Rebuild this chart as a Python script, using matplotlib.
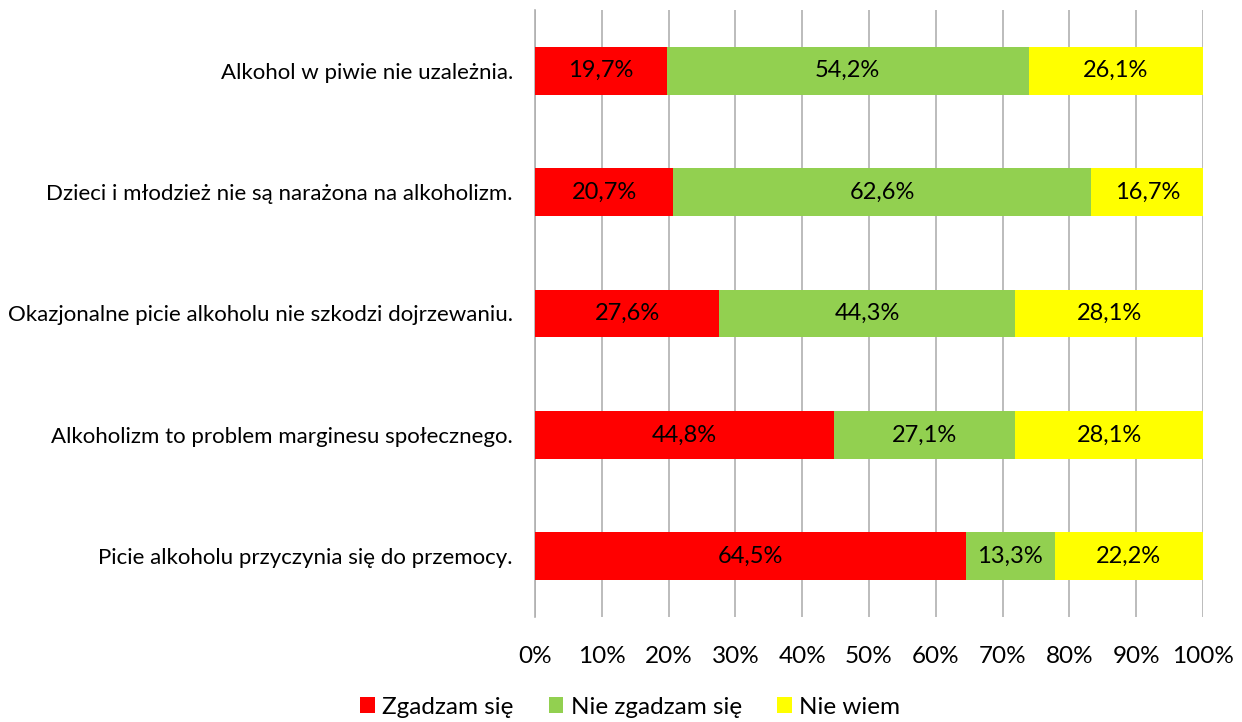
import matplotlib
matplotlib.use("Agg")
import matplotlib.pyplot as plt
from matplotlib.patches import Patch
import numpy as np

plt.rcParams['font.family'] = ['Lato', 'DejaVu Sans']

categories = [
    "Alkohol w piwie nie uzależnia.",
    "Dzieci i młodzież nie są narażona na alkoholizm.",
    "Okazjonalne picie alkoholu nie szkodzi dojrzewaniu.",
    "Alkoholizm to problem marginesu społecznego.",
    "Picie alkoholu przyczynia się do przemocy.",
]
series_names = ["Zgadzam się", "Nie zgadzam się", "Nie wiem"]
agree = [19.7, 20.7, 27.6, 44.8, 64.5]
disagree = [54.2, 62.6, 44.3, 27.1, 13.3]
dont_know = [26.1, 16.7, 28.1, 28.1, 22.2]
tick_labels = ["0%", "10%", "20%", "30%", "40%", "50%", "60%", "70%", "80%", "90%", "100%"]

colors = ["#ff0000", "#92d050", "#ffff00"]

fig = plt.figure(figsize=(12.42, 7.22), dpi=100)
ax = fig.add_axes([535 / 1242, 1 - 617 / 722, (1203 - 535) / 1242, 607 / 722])

y = np.arange(len(categories))
left = np.zeros(len(categories))
for vals, col in zip([agree, disagree, dont_know], colors):
    vals = np.array(vals)
    ax.barh(y, vals, left=left, height=0.395, color=col, zorder=3)
    for yi, l, v in zip(y, left, vals):
        ax.text(l + v / 2, yi, f"{v:.1f}%".replace(".", ","), ha="center", va="center",
                fontsize=17, color="black", zorder=4)
    left += vals

ax.set_xlim(0, 100)
ax.set_ylim(len(categories) - 0.5, -0.5)
ax.set_xticks(np.arange(0, 101, 10))
ax.set_xticklabels(tick_labels, fontsize=17.5)
ax.set_yticks(y)
ax.set_yticklabels(categories, fontsize=16)
ax.tick_params(axis="both", length=0)
ax.tick_params(axis="x", pad=21)
ax.tick_params(axis="y", pad=16)
ax.grid(axis="x", color="#b0b0b0", linewidth=1.2, zorder=0)
for side in ["top", "right", "bottom"]:
    ax.spines[side].set_visible(False)
ax.spines["left"].set_color("#b0b0b0")
ax.spines["left"].set_linewidth(1.2)

handles = [Patch(facecolor=c, edgecolor="none") for c in colors]
fig.legend(handles, series_names, loc="center", bbox_to_anchor=(630 / 1242, 1 - 707 / 722),
           ncol=3, frameon=False, fontsize=17.5, handlelength=0.6, handleheight=0.6,
           handletextpad=0.3, columnspacing=1.45)

fig.savefig("out.png", dpi=100)
